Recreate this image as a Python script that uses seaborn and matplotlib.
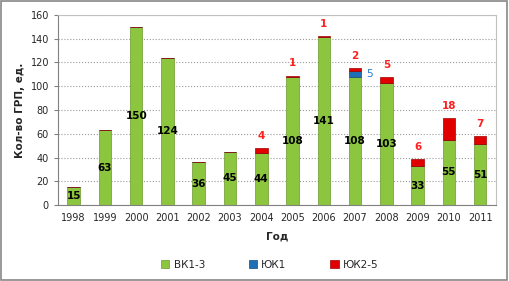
import numpy as np
import pandas as pd
import matplotlib
matplotlib.use('Agg')
import matplotlib.pyplot as plt
import seaborn as sns
from matplotlib.patches import Rectangle

# data
years = ['1998', '1999', '2000', '2001', '2002', '2003', '2004',
         '2005', '2006', '2007', '2008', '2009', '2010', '2011']
vk13 = [15, 63, 150, 124, 36, 45, 44, 108, 141, 108, 103, 33, 55, 51]
uk1 = [0, 0, 0, 0, 0, 0, 0, 0, 0, 5, 0, 0, 0, 0]
uk25 = [0, 0, 0, 0, 0, 0, 4, 1, 1, 2, 5, 6, 18, 7]

df = pd.DataFrame({'year': years, 'vk': vk13, 'uk1': uk1, 'uk25': uk25})

sns.set_style('white')
plt.rcParams['font.family'] = ['DejaVu Sans']

fig = plt.figure(figsize=(5.09, 2.81), dpi=100)
ax = fig.add_axes([0.114, 0.270, 0.860, 0.677])

green = '#8cc63f'
blue = '#1f6fb4'
red = '#e00000'
w = 0.4

sns.barplot(data=df, x='year', y='vk', color=green, width=w, ax=ax,
            edgecolor='#6a9a2c', linewidth=0.5, saturation=1, label='ВК1-3')
sns.barplot(data=df, x='year', y='uk1', color=blue, width=w, ax=ax,
            bottom=df['vk'], edgecolor='#134a7c', linewidth=0.5, saturation=1, label='ЮК1')
sns.barplot(data=df, x='year', y='uk25', color=red, width=w, ax=ax,
            bottom=df['vk'] + df['uk1'], edgecolor='#a00000', linewidth=0.5,
            saturation=1, label='ЮК2-5')

# value labels
for i, row in df.iterrows():
    ax.text(i, row['vk'] / 2, str(row['vk']), ha='center', va='center',
            fontsize=7.5, fontweight='bold', color='black')
    top = row['vk'] + row['uk1'] + row['uk25']
    if row['uk25'] > 0:
        ax.text(i, top + 6, str(row['uk25']), ha='center', va='bottom',
                fontsize=7.5, fontweight='bold', color='#ff2020')
    if row['uk1'] > 0:
        ax.text(i + 0.35, row['vk'] + row['uk1'] / 2, str(row['uk1']),
                ha='left', va='center', fontsize=7.5, color='#1f7fd0')

ax.set_ylim(0, 160)
ax.set_xlim(-0.5, len(years) - 0.5)
ax.set_yticks(range(0, 161, 20))
ax.yaxis.grid(True, linestyle=':', color='#9a9a9a', linewidth=0.8)
ax.set_axisbelow(True)
ax.set_xticks(range(len(years)))
ax.set_xticklabels(years)
ax.set_xticks(np.arange(-0.5, len(years), 1), minor=True)
ax.tick_params(axis='x', which='major', length=0, labelsize=7, pad=6)
ax.tick_params(axis='x', which='minor', length=3, color='#808080', direction='out')
ax.tick_params(axis='y', length=3, labelsize=7, color='#808080', direction='out', left=True)

for s in ['top', 'right']:
    ax.spines[s].set_visible(True)
    ax.spines[s].set_color('#c0c0c0')
    ax.spines[s].set_linewidth(0.8)
for s in ['left', 'bottom']:
    ax.spines[s].set_color('#808080')
    ax.spines[s].set_linewidth(0.8)

ax.set_xlabel('Год', fontsize=7.5, fontweight='bold', labelpad=6)
ax.set_ylabel('Кол-во ГРП, ед.', fontsize=7.5, fontweight='bold', labelpad=4)

handles, labels = ax.get_legend_handles_labels()
if ax.get_legend() is not None:
    ax.get_legend().remove()
fig.legend(handles, labels, loc='center', bbox_to_anchor=(0.53, 0.057), ncol=3,
           frameon=False, fontsize=7.5, handlelength=0.8, handleheight=0.8,
           columnspacing=4.2, handletextpad=0.4)

# outer frame of the chart
fig.patches.append(Rectangle((0.002, 0.003), 0.995, 0.993, transform=fig.transFigure,
                             fill=False, edgecolor='#888888', linewidth=1.2))

fig.savefig('out.png', dpi=100)
